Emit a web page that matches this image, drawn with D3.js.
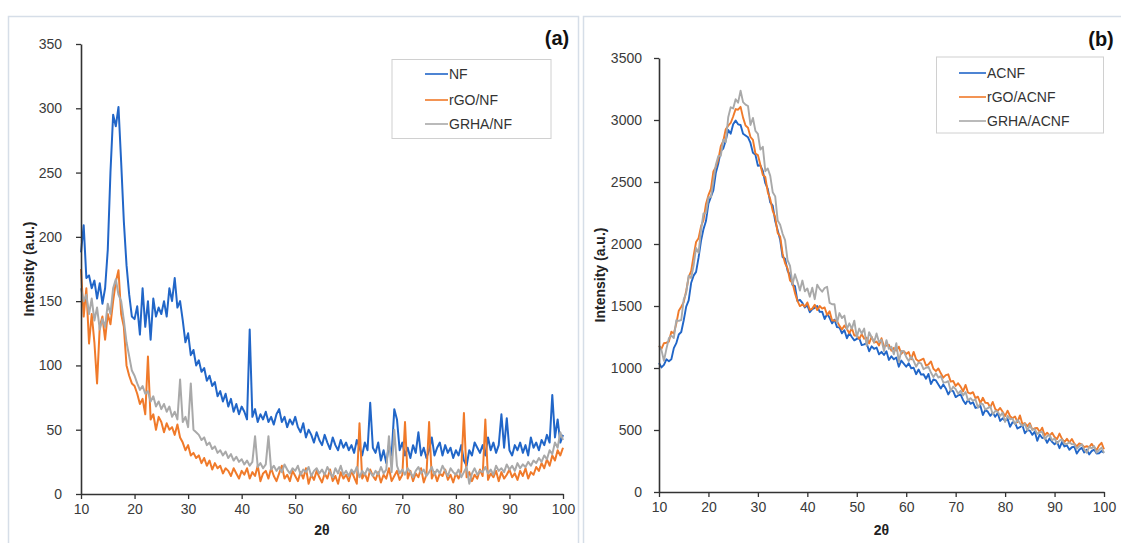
<!DOCTYPE html>
<html><head><meta charset="utf-8">
<script src="https://cdn.jsdelivr.net/npm/d3@7"></script>
<style>
body{margin:0;background:#fff}
svg{display:block}
text{font-family:"Liberation Sans",Arial,sans-serif}
</style>
</head><body>
<svg id="chart" width="1121" height="543"></svg>
<script>
// XRD patterns, sampled every 0.5° of 2θ from 10° to 100°
const thetaStart = 10, thetaStep = 0.5;

const namesA = ["NF", "rGO/NF", "GRHA/NF"];
const nf = [
  188,209,168,170,160,166,152,164,148,160,
  190,250,295,286,301,258,212,178,155,138,
  136,146,124,160,130,150,120,152,138,145,
  140,150,138,160,150,168,145,150,135,118,
  125,108,112,100,104,95,98,88,92,84,
  87,76,80,72,78,68,74,64,70,62,
  68,64,58,128,60,66,56,62,58,64,
  56,60,54,62,66,56,60,52,58,54,
  60,52,48,55,44,50,46,40,48,42,
  38,46,40,35,44,38,34,42,36,40,
  34,38,32,42,36,30,40,34,71,36,
  32,40,26,34,24,38,30,66,58,34,
  40,30,36,28,38,32,48,30,36,28,
  34,44,30,36,40,30,38,32,36,28,
  34,30,38,26,22,34,30,40,36,32,
  38,30,44,34,40,32,38,62,36,59,
  34,30,38,34,40,32,38,30,44,36,
  40,34,42,38,46,40,77,44,58,40,
  46
];
const rgoNf = [
  175,138,160,117,140,118,86,130,138,120,
  140,132,150,165,174,140,130,100,92,86,
  84,78,70,74,62,107,58,62,50,60,
  56,48,55,50,52,46,54,44,40,34,
  38,30,32,28,30,24,28,22,26,19,
  24,20,22,16,20,18,14,20,16,12,
  18,15,20,12,17,14,22,10,16,18,
  12,20,14,10,16,22,12,15,10,18,
  14,10,17,12,20,8,15,11,18,13,
  9,16,12,19,10,14,8,17,12,15,
  10,18,13,8,55,12,16,10,19,14,
  11,17,9,15,12,20,10,14,18,11,
  15,56,12,18,10,16,13,20,9,15,
  56,12,17,10,16,14,19,11,15,9,
  16,12,18,63,13,17,10,15,12,19,
  14,58,11,16,13,18,10,17,12,15,
  19,13,16,11,18,14,20,12,17,15,
  21,18,24,20,27,22,30,26,34,30,
  36
];
const grhaNf = [
  160,150,155,140,152,135,145,128,136,130,
  148,140,160,167,155,150,135,118,107,96,
  92,86,81,84,78,80,72,76,68,72,
  66,70,64,68,60,64,58,89,56,60,
  52,86,50,48,46,42,44,38,40,35,
  37,32,34,30,33,28,31,26,29,25,
  27,23,26,22,25,45,21,24,20,23,
  45,19,22,18,21,17,23,19,16,20,
  18,22,15,19,17,21,14,18,20,16,
  19,15,21,17,13,20,16,22,15,18,
  14,19,16,21,13,18,15,20,17,14,
  18,15,21,16,19,45,17,50,22,16,
  19,15,20,17,13,18,21,16,19,14,
  17,21,15,19,16,22,18,14,20,17,
  15,19,13,17,21,8,16,20,15,18,
  17,21,16,19,15,22,18,20,17,23,
  19,22,18,24,20,23,21,25,22,26,
  24,28,25,30,27,34,31,40,36,48,
  42
];

const namesB = ["ACNF", "rGO/ACNF", "GRHA/ACNF"];
const acnf = [
  1040,1005,1025,1070,1055,1070,1160,1200,1270,1290,
  1385,1495,1545,1685,1745,1775,1890,2025,2120,2185,
  2325,2380,2435,2575,2650,2750,2770,2835,2920,2890,
  2965,2995,2965,2960,2890,2875,2860,2815,2735,2720,
  2630,2635,2590,2490,2445,2335,2310,2185,2110,2035,
  1895,1880,1785,1750,1670,1660,1540,1550,1525,1488,
  1505,1450,1475,1485,1500,1453,1455,1395,1435,1405,
  1360,1390,1330,1327,1280,1305,1240,1282,1250,1223,
  1235,1240,1185,1190,1200,1135,1175,1155,1165,1110,
  1130,1105,1135,1065,1095,1070,1085,1010,1060,1035,
  1010,1039,998,1002,950,988,947,950,913,952,
  870,908,900,867,835,868,835,787,820,813,
  765,779,787,740,709,743,711,724,678,682,
  695,621,662,648,614,640,606,637,573,594,
  575,590,526,562,557,512,523,539,474,499,
  495,461,487,413,464,435,441,397,433,404,
  385,404,353,403,367,376,341,361,365,310,
  340,357,319,341,303,330,342,310,312,330,
  317
];
const rgoAcnf = [
  1180,1155,1200,1204,1213,1293,1279,1358,1462,1494,
  1531,1621,1732,1781,1905,2016,2047,2142,2193,2323,
  2394,2444,2585,2621,2682,2789,2831,2925,2954,2976,
  3028,3088,3083,3106,3019,2955,2937,2863,2839,2730,
  2717,2640,2557,2540,2418,2362,2267,2216,2090,2061,
  1922,1845,1803,1705,1688,1604,1541,1499,1512,1495,
  1529,1469,1479,1510,1467,1500,1479,1488,1428,1458,
  1383,1383,1378,1340,1311,1342,1314,1280,1322,1262,
  1262,1235,1273,1236,1245,1198,1252,1205,1213,1181,
  1240,1172,1180,1187,1140,1162,1140,1172,1115,1136,
  1113,1129,1070,1130,1070,1055,1065,1075,1020,1029,
  1053,994,975,996,957,922,943,949,890,895,
  855,877,850,812,864,801,793,805,757,769,
  716,760,719,718,682,726,670,654,678,647,
  612,656,611,595,609,563,618,547,556,530,
  555,502,514,516,483,519,456,478,455,477,
  444,427,471,429,402,430,399,427,390,368,
  392,384,362,369,361,388,361,338,375,397,
  345
];
const grhaAcnf = [
  1180,1144,1058,1154,1240,1261,1242,1386,1380,1387,
  1554,1605,1745,1726,1827,1968,1928,2112,2246,2247,
  2377,2378,2509,2640,2710,2711,2841,2822,3022,3103,
  3093,3167,3140,3237,3144,3124,3113,2960,3016,2912,
  2888,2761,2784,2587,2609,2549,2418,2384,2190,2156,
  2082,2031,1870,1823,1676,1756,1695,1625,1705,1618,
  1642,1575,1648,1555,1672,1638,1615,1645,1655,1525,
  1514,1514,1363,1443,1403,1423,1313,1360,1316,1382,
  1249,1318,1278,1318,1178,1288,1248,1208,1278,1208,
  1228,1136,1225,1154,1172,1111,1200,1048,1137,1135,
  1089,1057,1090,1058,1011,1044,1037,990,1002,1010,
  963,928,958,923,934,884,884,894,815,850,
  830,793,816,779,807,739,757,735,748,681,
  714,709,665,676,691,627,653,648,614,640,
  565,615,586,592,547,583,554,534,550,496,
  541,501,507,468,483,484,425,450,461,417,
  432,391,415,424,388,387,402,386,385,349,
  368,386,344,316,364,352,370,317,340,358,
  316
];

const xTicks = [10, 20, 30, 40, 50, 60, 70, 80, 90, 100];
const yTicksA = [0, 50, 100, 150, 200, 250, 300, 350];
const yTicksB = [0, 500, 1000, 1500, 2000, 2500, 3000, 3500];
const lineColors = ["#2166c8", "#f07a2a", "#a9a9a9"];
const xTitle = "2θ", yTitle = "Intensity (a.u.)";

const svg = d3.select("#chart");
svg.append("rect").attr("width", 1121).attr("height", 543).attr("fill", "#fff");

// panel frames
svg.append("rect").attr("x", 8.5).attr("y", 16.5).attr("width", 570).attr("height", 560)
  .attr("fill", "none").attr("stroke", "#d6dee8").attr("stroke-width", 1.5);
svg.append("rect").attr("x", 583.5).attr("y", 16.5).attr("width", 560).attr("height", 560)
  .attr("fill", "none").attr("stroke", "#d6dee8").attr("stroke-width", 1.5);

const panels = [
  { names: namesA, series: [nf, rgoNf, grhaNf], yTicks: yTicksA, tag: "(a)",
    x0: 81, x1: 563, y0: 494, y1: 44, pad: 14, titleX: 29, width: 2,
    legend: { x: 392, y: 59.5, w: 159, h: 79, lx: 425, tx: 449, ly: [74, 100, 124] },
    tagX: 557, tagY: 45 },
  { names: namesB, series: [acnf, rgoAcnf, grhaAcnf], yTicks: yTicksB, tag: "(b)",
    x0: 659, x1: 1104, y0: 492, y1: 58, pad: 12, titleX: 600, width: 1.9,
    legend: { x: 936.5, y: 57, w: 167, h: 76, lx: 959, tx: 987, ly: [73, 97, 121] },
    tagX: 1101, tagY: 46 }
];

panels.forEach(p => {
  const x = d3.scaleLinear().domain([10, 100]).range([p.x0, p.x1]);
  const y = d3.scaleLinear().domain([0, p.yTicks[p.yTicks.length - 1]]).range([p.y0, p.y1]);
  const g = svg.append("g");

  const line = d3.line()
    .x((d, i) => x(thetaStart + i * thetaStep))
    .y(d => y(d));

  p.series.forEach((s, k) => {
    g.append("path").datum(s).attr("d", line)
      .attr("fill", "none").attr("stroke", lineColors[k])
      .attr("stroke-width", p.width).attr("stroke-linejoin", "round");
  });

  const ax = g.append("g").attr("transform", `translate(0,${p.y0})`)
    .call(d3.axisBottom(x).tickValues(xTicks).tickFormat(d3.format("d"))
      .tickSize(5).tickSizeOuter(0).tickPadding(5));
  const ay = g.append("g").attr("transform", `translate(${p.x0},0)`)
    .call(d3.axisLeft(y).tickValues(p.yTicks).tickFormat(d3.format("d"))
      .tickSize(5).tickSizeOuter(0).tickPadding(p.pad));
  [ax, ay].forEach(a => {
    a.select(".domain").attr("stroke", "#333").attr("stroke-width", 1.6);
    a.selectAll(".tick line").attr("stroke", "#333").attr("stroke-width", 1.3);
    a.selectAll(".tick text").attr("fill", "#3a3a3a").style("font-size", "14px")
      .style("font-family", '"Liberation Sans", Arial, sans-serif');
  });

  g.append("text").attr("x", (p.x0 + p.x1) / 2).attr("y", 535)
    .attr("text-anchor", "middle").style("font-size", "14px").style("font-weight", "bold")
    .attr("fill", "#222").text(xTitle);
  g.append("text").attr("transform", `translate(${p.titleX},${(p.y0 + p.y1) / 2}) rotate(-90)`)
    .attr("text-anchor", "middle").attr("dy", "0.35em")
    .style("font-size", "14px").style("font-weight", "bold").attr("fill", "#222").text(yTitle);

  g.append("text").attr("x", p.tagX).attr("y", p.tagY).attr("text-anchor", "middle")
    .style("font-size", "20px").style("font-weight", "bold").attr("fill", "#111").text(p.tag);

  const L = p.legend;
  g.append("rect").attr("x", L.x).attr("y", L.y).attr("width", L.w).attr("height", L.h)
    .attr("fill", "#fff").attr("stroke", "#d0d0d0").attr("stroke-width", 1);
  p.names.forEach((n, k) => {
    g.append("line").attr("x1", L.lx).attr("x2", L.tx - 1).attr("y1", L.ly[k]).attr("y2", L.ly[k])
      .attr("stroke", lineColors[k]).attr("stroke-width", 1.6);
    g.append("text").attr("x", L.tx).attr("y", L.ly[k]).attr("dy", "0.35em")
      .style("font-size", "14px").attr("fill", "#333").text(n);
  });
});
</script>
</body></html>
